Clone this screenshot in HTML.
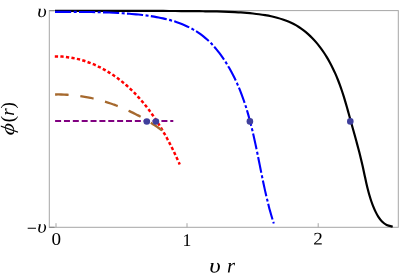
<!DOCTYPE html>
<html><head><meta charset="utf-8"><style>
html,body{margin:0;padding:0;background:#fff;}
body{width:400px;height:277px;overflow:hidden;font-family:"Liberation Serif",serif;}
svg{display:block}
text{font-family:"Liberation Serif",serif;fill:#000}
</style></head><body>
<svg width="400" height="277" viewBox="0 0 400 277">
<rect width="400" height="277" fill="#fff"/>
<!-- frame -->
<g fill="none" stroke="#a6a6a6" stroke-width="1">
<rect x="49.3" y="10.6" width="349" height="216.7"/>
<path d="M56 227.3V223.2M187 227.3V223.2M318.2 227.3V223.2"/>
<path d="M49.3 10.6H54.6M49.3 227.3H54.6" stroke="#8c8c8c" stroke-width="1.3"/>
</g>
<!-- curves -->
<g fill="none" stroke-linecap="butt" stroke-linejoin="round">
<path d="M55.00 10.90 C55.99 10.90 58.96 10.90 60.94 10.90 C62.92 10.90 64.91 10.90 66.89 10.90 C68.88 10.90 70.87 10.90 72.86 10.90 C74.86 10.90 76.85 10.90 78.85 10.90 C80.84 10.90 82.84 10.90 84.84 10.90 C86.84 10.90 88.84 10.90 90.85 10.89 C92.85 10.89 94.86 10.89 96.86 10.89 C98.87 10.89 100.88 10.89 102.89 10.89 C104.90 10.88 106.91 10.88 108.92 10.88 C110.93 10.88 112.94 10.88 114.95 10.88 C116.96 10.88 118.98 10.88 120.99 10.88 C123.00 10.88 125.02 10.88 127.03 10.88 C129.04 10.88 131.06 10.88 133.07 10.89 C135.09 10.89 137.10 10.89 139.11 10.89 C141.13 10.89 143.14 10.90 145.15 10.90 C147.16 10.91 149.18 10.91 151.19 10.92 C153.20 10.92 155.21 10.93 157.22 10.93 C159.22 10.94 161.23 10.95 163.24 10.96 C165.25 10.96 167.25 10.97 169.25 10.98 C171.26 10.99 173.26 11.00 175.26 11.02 C177.26 11.03 179.26 11.04 181.26 11.05 C183.25 11.07 185.25 11.08 187.24 11.10 C189.23 11.12 191.22 11.13 193.21 11.15 C195.20 11.17 197.18 11.19 199.16 11.21 C201.15 11.23 203.12 11.25 205.10 11.28 C207.08 11.30 209.05 11.33 211.03 11.36 C213.00 11.39 214.97 11.42 216.95 11.47 C218.92 11.51 220.90 11.56 222.88 11.62 C224.85 11.68 226.83 11.74 228.82 11.82 C230.80 11.90 232.79 11.99 234.79 12.10 C236.78 12.21 238.78 12.32 240.79 12.46 C242.79 12.60 244.81 12.75 246.83 12.92 C248.85 13.09 250.89 13.28 252.92 13.49 C254.96 13.71 257.00 13.94 259.03 14.22 C261.06 14.49 263.10 14.79 265.12 15.13 C267.13 15.48 269.15 15.85 271.13 16.28 C273.12 16.71 275.10 17.18 277.05 17.71 C278.99 18.24 280.92 18.81 282.81 19.45 C284.70 20.09 286.57 20.79 288.39 21.55 C290.21 22.32 291.99 23.15 293.73 24.06 C295.47 24.96 297.16 25.94 298.81 26.99 C300.46 28.04 302.06 29.17 303.61 30.36 C305.17 31.54 306.68 32.80 308.14 34.11 C309.61 35.42 311.03 36.79 312.41 38.21 C313.79 39.63 315.12 41.11 316.41 42.63 C317.71 44.15 318.96 45.72 320.17 47.33 C321.38 48.93 322.54 50.58 323.67 52.26 C324.80 53.94 325.89 55.66 326.94 57.40 C327.98 59.14 328.99 60.91 329.96 62.70 C330.93 64.49 331.86 66.31 332.76 68.14 C333.65 69.96 334.51 71.81 335.33 73.66 C336.15 75.51 336.93 77.38 337.68 79.24 C338.43 81.11 339.15 82.98 339.83 84.85 C340.52 86.73 341.18 88.61 341.81 90.49 C342.45 92.37 343.05 94.26 343.65 96.15 C344.24 98.04 344.81 99.94 345.37 101.84 C345.93 103.74 346.48 105.64 347.02 107.54 C347.56 109.45 348.08 111.36 348.61 113.27 C349.14 115.18 349.67 117.09 350.19 119.01 C350.72 120.93 351.25 122.85 351.79 124.77 C352.32 126.69 352.86 128.62 353.40 130.54 C353.94 132.47 354.48 134.40 355.01 136.33 C355.55 138.26 356.08 140.20 356.61 142.14 C357.14 144.07 357.66 146.01 358.18 147.96 C358.69 149.90 359.20 151.85 359.69 153.80 C360.19 155.75 360.67 157.70 361.14 159.65 C361.61 161.61 362.07 163.57 362.51 165.53 C362.96 167.49 363.38 169.45 363.80 171.41 C364.23 173.38 364.63 175.34 365.06 177.30 C365.48 179.26 365.90 181.22 366.35 183.17 C366.80 185.12 367.25 187.07 367.74 189.01 C368.23 190.94 368.73 192.87 369.28 194.79 C369.84 196.70 370.42 198.61 371.05 200.49 C371.69 202.38 372.37 204.26 373.11 206.11 C373.86 207.97 374.64 209.82 375.52 211.62 C376.40 213.42 377.31 215.26 378.39 216.91 C379.47 218.57 380.62 220.20 382.00 221.54 C383.38 222.88 384.88 224.12 386.66 224.98 C388.45 225.84 391.69 226.41 392.70 226.70" stroke="#000" stroke-width="2.2"/>
<path d="M55.00 11.90 C55.76 11.90 58.03 11.90 59.54 11.90 C61.05 11.89 62.56 11.89 64.07 11.89 C65.58 11.89 67.09 11.89 68.60 11.89 C70.10 11.90 71.61 11.90 73.11 11.90 C74.62 11.91 76.12 11.91 77.62 11.92 C79.12 11.93 80.62 11.94 82.13 11.95 C83.63 11.97 85.13 11.98 86.63 12.00 C88.12 12.02 89.62 12.04 91.12 12.06 C92.62 12.09 94.12 12.12 95.62 12.15 C97.11 12.18 98.61 12.22 100.11 12.26 C101.61 12.30 103.10 12.35 104.60 12.40 C106.10 12.45 107.60 12.50 109.09 12.56 C110.59 12.62 112.09 12.69 113.59 12.76 C115.09 12.83 116.59 12.91 118.09 13.00 C119.59 13.08 121.09 13.17 122.59 13.27 C124.09 13.37 125.59 13.47 127.09 13.58 C128.59 13.69 130.10 13.81 131.60 13.94 C133.10 14.06 134.61 14.20 136.12 14.34 C137.62 14.49 139.13 14.64 140.63 14.80 C142.14 14.97 143.64 15.14 145.15 15.33 C146.65 15.53 148.15 15.73 149.65 15.95 C151.15 16.17 152.65 16.40 154.14 16.65 C155.63 16.90 157.12 17.17 158.61 17.46 C160.09 17.75 161.58 18.06 163.05 18.39 C164.53 18.72 166.00 19.07 167.46 19.45 C168.93 19.82 170.38 20.22 171.83 20.65 C173.28 21.07 174.72 21.52 176.15 22.00 C177.58 22.48 179.00 22.98 180.40 23.51 C181.80 24.04 183.19 24.61 184.57 25.20 C185.94 25.79 187.30 26.41 188.64 27.07 C189.98 27.72 191.30 28.41 192.61 29.13 C193.91 29.85 195.19 30.61 196.45 31.40 C197.71 32.19 198.94 33.02 200.15 33.89 C201.37 34.75 202.55 35.66 203.71 36.59 C204.87 37.53 206.01 38.51 207.12 39.52 C208.23 40.52 209.31 41.56 210.37 42.63 C211.43 43.70 212.47 44.80 213.48 45.92 C214.50 47.04 215.49 48.19 216.45 49.35 C217.42 50.52 218.36 51.71 219.28 52.92 C220.20 54.12 221.10 55.35 221.98 56.59 C222.85 57.83 223.71 59.09 224.54 60.35 C225.37 61.61 226.18 62.89 226.97 64.18 C227.76 65.46 228.53 66.75 229.28 68.06 C230.03 69.36 230.76 70.67 231.47 71.99 C232.18 73.31 232.87 74.63 233.55 75.97 C234.22 77.30 234.87 78.65 235.51 80.00 C236.15 81.35 236.77 82.70 237.37 84.07 C237.98 85.43 238.57 86.80 239.14 88.18 C239.71 89.56 240.27 90.95 240.81 92.34 C241.35 93.73 241.88 95.12 242.39 96.53 C242.91 97.93 243.40 99.34 243.89 100.75 C244.38 102.17 244.85 103.59 245.32 105.01 C245.78 106.44 246.23 107.87 246.67 109.30 C247.11 110.73 247.53 112.17 247.95 113.62 C248.37 115.06 248.77 116.51 249.17 117.96 C249.57 119.41 249.96 120.86 250.34 122.32 C250.72 123.78 251.09 125.24 251.46 126.71 C251.82 128.17 252.18 129.64 252.53 131.11 C252.88 132.58 253.22 134.05 253.56 135.53 C253.89 137.00 254.22 138.48 254.55 139.96 C254.88 141.44 255.20 142.92 255.51 144.40 C255.83 145.89 256.14 147.37 256.45 148.86 C256.76 150.34 257.07 151.83 257.38 153.31 C257.68 154.80 257.98 156.29 258.28 157.77 C258.58 159.26 258.88 160.75 259.18 162.24 C259.48 163.72 259.78 165.21 260.08 166.70 C260.37 168.18 260.67 169.67 260.97 171.16 C261.27 172.64 261.57 174.12 261.88 175.61 C262.18 177.09 262.48 178.57 262.79 180.05 C263.10 181.53 263.41 183.01 263.73 184.48 C264.04 185.96 264.36 187.43 264.68 188.90 C265.01 190.37 265.34 191.84 265.67 193.31 C266.00 194.77 266.34 196.23 266.69 197.69 C267.03 199.15 267.39 200.61 267.75 202.06 C268.11 203.51 268.47 204.96 268.85 206.40 C269.22 207.85 269.61 209.29 270.00 210.72 C270.39 212.16 270.79 213.59 271.20 215.01 C271.62 216.44 272.04 217.86 272.47 219.27 C272.90 220.69 273.58 222.80 273.80 223.50" stroke="#0000ff" stroke-width="2.1" stroke-dasharray="16.2 2.5 3 2.3"/>
<path d="M54.80 56.40 C55.41 56.41 57.25 56.40 58.47 56.44 C59.69 56.48 60.90 56.54 62.11 56.62 C63.31 56.71 64.51 56.81 65.71 56.95 C66.90 57.08 68.09 57.23 69.28 57.41 C70.46 57.58 71.64 57.78 72.81 58.00 C73.98 58.22 75.14 58.46 76.30 58.72 C77.46 58.99 78.61 59.27 79.75 59.57 C80.90 59.88 82.04 60.20 83.17 60.55 C84.30 60.89 85.43 61.26 86.54 61.64 C87.66 62.02 88.77 62.43 89.87 62.85 C90.98 63.27 92.07 63.71 93.16 64.17 C94.25 64.63 95.33 65.10 96.40 65.60 C97.48 66.09 98.54 66.60 99.60 67.13 C100.66 67.66 101.71 68.21 102.75 68.77 C103.79 69.33 104.82 69.91 105.85 70.50 C106.87 71.09 107.89 71.70 108.90 72.33 C109.91 72.95 110.91 73.59 111.90 74.25 C112.89 74.90 113.87 75.57 114.85 76.25 C115.82 76.93 116.79 77.63 117.74 78.34 C118.70 79.05 119.64 79.77 120.58 80.51 C121.52 81.24 122.45 81.99 123.37 82.75 C124.28 83.51 125.19 84.29 126.09 85.07 C126.99 85.85 127.88 86.65 128.76 87.46 C129.64 88.26 130.51 89.08 131.37 89.91 C132.23 90.74 133.08 91.58 133.92 92.42 C134.76 93.27 135.59 94.13 136.41 95.00 C137.23 95.87 138.04 96.74 138.84 97.63 C139.64 98.51 140.43 99.41 141.21 100.31 C141.99 101.21 142.75 102.12 143.52 103.04 C144.28 103.96 145.03 104.89 145.77 105.82 C146.51 106.76 147.24 107.70 147.97 108.65 C148.69 109.60 149.40 110.55 150.11 111.51 C150.82 112.48 151.51 113.44 152.20 114.42 C152.89 115.39 153.57 116.38 154.25 117.36 C154.92 118.35 155.58 119.34 156.24 120.34 C156.90 121.34 157.54 122.34 158.18 123.35 C158.83 124.36 159.46 125.37 160.08 126.38 C160.71 127.40 161.33 128.42 161.94 129.45 C162.55 130.47 163.16 131.50 163.75 132.53 C164.35 133.57 164.94 134.60 165.52 135.64 C166.11 136.68 166.68 137.73 167.25 138.77 C167.82 139.82 168.38 140.87 168.94 141.92 C169.50 142.98 170.05 144.03 170.59 145.09 C171.13 146.15 171.67 147.21 172.20 148.28 C172.73 149.34 173.25 150.41 173.77 151.48 C174.29 152.55 174.80 153.62 175.31 154.69 C175.81 155.76 176.31 156.84 176.81 157.92 C177.30 158.99 177.79 160.07 178.27 161.15 C178.75 162.23 179.46 163.86 179.70 164.40" stroke="#ff0000" stroke-width="2.5" stroke-dasharray="3.25 2.32"/>
<path d="M55.10 94.50 C55.60 94.50 57.10 94.47 58.10 94.47 C59.10 94.47 60.09 94.48 61.09 94.50 C62.09 94.52 63.08 94.55 64.08 94.59 C65.07 94.63 66.07 94.68 67.06 94.74 C68.05 94.80 69.04 94.87 70.03 94.95 C71.02 95.03 72.01 95.11 73.00 95.21 C73.99 95.31 74.98 95.42 75.96 95.53 C76.95 95.65 77.93 95.77 78.91 95.91 C79.90 96.04 80.88 96.19 81.86 96.34 C82.84 96.49 83.82 96.65 84.79 96.82 C85.77 96.99 86.74 97.17 87.72 97.36 C88.69 97.55 89.66 97.75 90.63 97.95 C91.60 98.16 92.57 98.37 93.53 98.60 C94.50 98.82 95.46 99.05 96.42 99.29 C97.39 99.53 98.35 99.78 99.30 100.04 C100.26 100.30 101.22 100.56 102.17 100.83 C103.12 101.11 104.07 101.39 105.02 101.68 C105.97 101.97 106.92 102.27 107.86 102.57 C108.80 102.88 109.74 103.19 110.68 103.51 C111.62 103.83 112.56 104.16 113.49 104.50 C114.42 104.84 115.36 105.18 116.28 105.53 C117.21 105.89 118.14 106.25 119.06 106.61 C119.98 106.98 120.90 107.35 121.82 107.74 C122.74 108.12 123.65 108.51 124.56 108.90 C125.47 109.30 126.38 109.71 127.29 110.12 C128.19 110.53 129.09 110.94 129.99 111.37 C130.89 111.79 131.79 112.23 132.68 112.66 C133.57 113.10 134.46 113.55 135.34 114.00 C136.23 114.45 137.11 114.91 137.99 115.38 C138.87 115.84 139.74 116.32 140.62 116.79 C141.49 117.27 142.35 117.76 143.22 118.25 C144.08 118.74 144.94 119.24 145.80 119.74 C146.66 120.25 147.51 120.76 148.36 121.27 C149.21 121.79 150.05 122.31 150.89 122.84 C151.73 123.37 152.57 123.90 153.41 124.44 C154.24 124.98 155.07 125.53 155.89 126.08 C156.72 126.63 157.54 127.19 158.35 127.75 C159.17 128.32 159.98 128.89 160.79 129.46 C161.60 130.03 162.80 130.91 163.20 131.20" stroke="#a6692e" stroke-width="2.3" stroke-dasharray="13.5 11.8"/>
<path d="M55.1 121H173.3" stroke="#800080" stroke-width="2" stroke-dasharray="6 2.86"/>
</g>
<g fill="#3f3f9c">
<circle cx="146.8" cy="121.45" r="3.3"/>
<circle cx="155.9" cy="121.45" r="3.3"/>
<circle cx="249.9" cy="121.4" r="3.3"/>
<circle cx="350.3" cy="121.4" r="3.3"/>
</g>
<!-- tick labels -->
<g style="filter:grayscale(1)">
<g font-size="17.7px" text-anchor="middle">
<text transform="translate(56.3,244.7) scale(1.08,1) rotate(0.05)">0</text>
<text transform="translate(186.8,245.9) scale(1.0,1) rotate(0.05)">1</text>
<text transform="translate(318.0,244.6) scale(1.08,1) rotate(0.05)">2</text>
</g>
<g font-size="18px" font-style="italic">
<text transform="translate(37.2,17.0) scale(1.15,1) rotate(0.05)">υ</text>
<text transform="translate(37.2,232.4) scale(1.15,1) rotate(0.05)">υ</text>
<text transform="translate(26.8,234.0) scale(1.03,1) rotate(0.05)" font-style="normal" font-size="17.5px">−</text>
</g>
<g font-size="20.5px" font-style="italic">
<text transform="translate(209.3,272.6) scale(1.22,1) rotate(0.05)">υ</text>
<text transform="translate(227.0,272.6) rotate(0.05)">r</text>
</g>
<g font-size="19px" font-style="italic">
<text transform="translate(14.2,135.8) rotate(-90) scale(1.22,1.0) skewX(-6)">ϕ</text>
<text transform="translate(14.2,122.2) rotate(-90)"><tspan font-style="normal">(</tspan>r<tspan font-style="normal">)</tspan></text>
</g>
</g>
</svg>
</body></html>
